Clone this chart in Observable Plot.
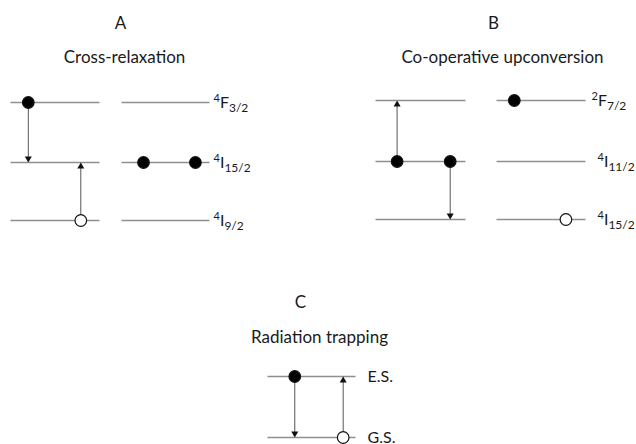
<!DOCTYPE html>
<html>
<head>
<meta charset="utf-8">
<script src="https://cdn.jsdelivr.net/npm/d3@7"></script>
<script src="https://cdn.jsdelivr.net/npm/@observablehq/plot@0.6"></script>
<style>
  html, body { margin: 0; padding: 0; background: #fff; }
  #chart svg { display: block; }
</style>
</head>
<body>
<div id="chart"></div>
<script>
// ---- data ----
const panels = ["A", "B", "C"];
const panelTitles = ["Cross-relaxation", "Co-operative upconversion", "Radiation trapping"];
// level labels per panel, lowest level first ("sup|main|sub")
const levelLabelsA = ["4|I|9/2", "4|I|15/2", "4|F|3/2"];
const levelLabelsB = ["4|I|15/2", "4|I|11/2", "2|F|7/2"];
const levelLabelsC = ["G.S.", "E.S."];
// ions drawn in each panel
const ionsPerPanel = [2, 2, 1];
// electrons: panel, ion, level, fractional position along the level, filled?
const elPanel  = ["A", "A", "A", "A", "B", "B", "B", "B", "C", "C"];
const elIon    = [0, 1, 1, 0, 0, 0, 1, 1, 0, 0];
const elLevel  = [2, 1, 1, 0, 1, 1, 2, 0, 1, 0];
const elFrac   = [0.2, 0.25, 0.84, 0.79, 0.24, 0.83, 0.2, 0.78, 0.31, 0.86];
const elFilled = [true, true, true, false, true, true, true, false, true, false];
// transitions: panel, ion, fractional position, from level, to level
const trPanel = ["A", "A", "B", "B", "C", "C"];
const trIon   = [0, 0, 0, 0, 0, 0];
const trFrac  = [0.2, 0.79, 0.24, 0.83, 0.31, 0.86];
const trFrom  = [2, 0, 1, 1, 1, 0];
const trTo    = [1, 1, 2, 0, 0, 1];

// ---- layout (diagram coordinates) ----
const layout = {
  A: {ionX: [[10, 99], [121, 209]], levelY: [220, 162, 102], labelX: [213, 213, 213], letter: [120, 23], title: [124, 57]},
  B: {ionX: [[375, 465], [496, 585]], levelY: [219, 161, 100], labelX: [597, 597, 591], letter: [493, 23], title: [502, 57]},
  C: {ionX: [[267, 355]], levelY: [437, 376], labelX: [367, 367], letter: [300, 302], title: [319, 337]}
};
const levelLabels = {A: levelLabelsA, B: levelLabelsB, C: levelLabelsC};

const levelSegs = [], labels = [], heads = [], titles = [];
panels.forEach((p, i) => {
  const L = layout[p];
  L.levelY.forEach((y, lv) => {
    for (let k = 0; k < ionsPerPanel[i]; k++) {
      levelSegs.push({x1: L.ionX[k][0], x2: L.ionX[k][1], y});
    }
    labels.push({x: L.labelX[lv], y, text: levelLabels[p][lv]});
  });
  titles.push({x: L.letter[0], y: L.letter[1], text: p});
  titles.push({x: L.title[0], y: L.title[1], text: panelTitles[i]});
});
const xAt = (p, ion, f) => { const [a, b] = layout[p].ionX[ion]; return a + f * (b - a); };
const electrons = elPanel.map((p, i) => ({
  x: xAt(p, elIon[i], elFrac[i]), y: layout[p].levelY[elLevel[i]], filled: elFilled[i]
}));
const transitions = trPanel.map((p, i) => {
  const y1 = layout[p].levelY[trFrom[i]], y2 = layout[p].levelY[trTo[i]];
  const dir = Math.sign(y2 - y1);
  return {x: xAt(p, trIon[i], trFrac[i]), y1, y2: y2 - dir * 2, up: dir < 0};
});
transitions.forEach(t => heads.push({x: t.x, y: t.y2 - (t.up ? -2 : 2), rot: t.up ? 0 : 180}));

const chart = Plot.plot({
  width: 636, height: 444,
  margin: 0,
  x: {domain: [0, 636], range: [0, 636], axis: null},
  y: {domain: [0, 444], range: [0, 444], axis: null},
  style: {fontFamily: "Lato, 'Open Sans', sans-serif", background: "#fff"},
  marks: [
    Plot.link(levelSegs, {x1: "x1", x2: "x2", y1: "y", y2: "y", stroke: "#8f8f8f", strokeWidth: 1.5}),
    Plot.link(transitions, {x1: "x", x2: "x", y1: "y1", y2: "y2", stroke: "#555", strokeWidth: 1}),
    Plot.dot(heads, {x: "x", y: "y", symbol: "triangle", rotate: "rot", r: 2.6, fill: "#111", stroke: "none"}),
    Plot.dot(electrons, {x: "x", y: "y", r: 5.8, fill: d => d.filled ? "#000" : "#fff", stroke: "#111", strokeWidth: 1.2}),
    Plot.text(titles, {x: "x", y: "y", text: "text", fontSize: 17, fill: "#1a1a1a", textAnchor: "middle", lineAnchor: "middle"}),
    Plot.text(labels, {x: "x", y: "y", text: "text", fontSize: 16, fill: "#1a1a1a", textAnchor: "start", lineAnchor: "middle"})
  ]
});
// convert "sup|main|sub" labels to super/subscripts
d3.select(chart).selectAll("text").each(function() {
  const t = this.textContent;
  if (!t.includes("|")) return;
  const [sup, main, sub] = t.split("|");
  const el = d3.select(this);
  el.text(null);
  el.append("tspan").attr("font-size", 11).attr("dy", -6).text(sup);
  el.append("tspan").attr("font-size", 16).attr("dy", 6).text(main);
  el.append("tspan").attr("font-size", 12).attr("dy", 4).text(sub);
});
document.getElementById("chart").append(chart);
</script>
</body>
</html>
